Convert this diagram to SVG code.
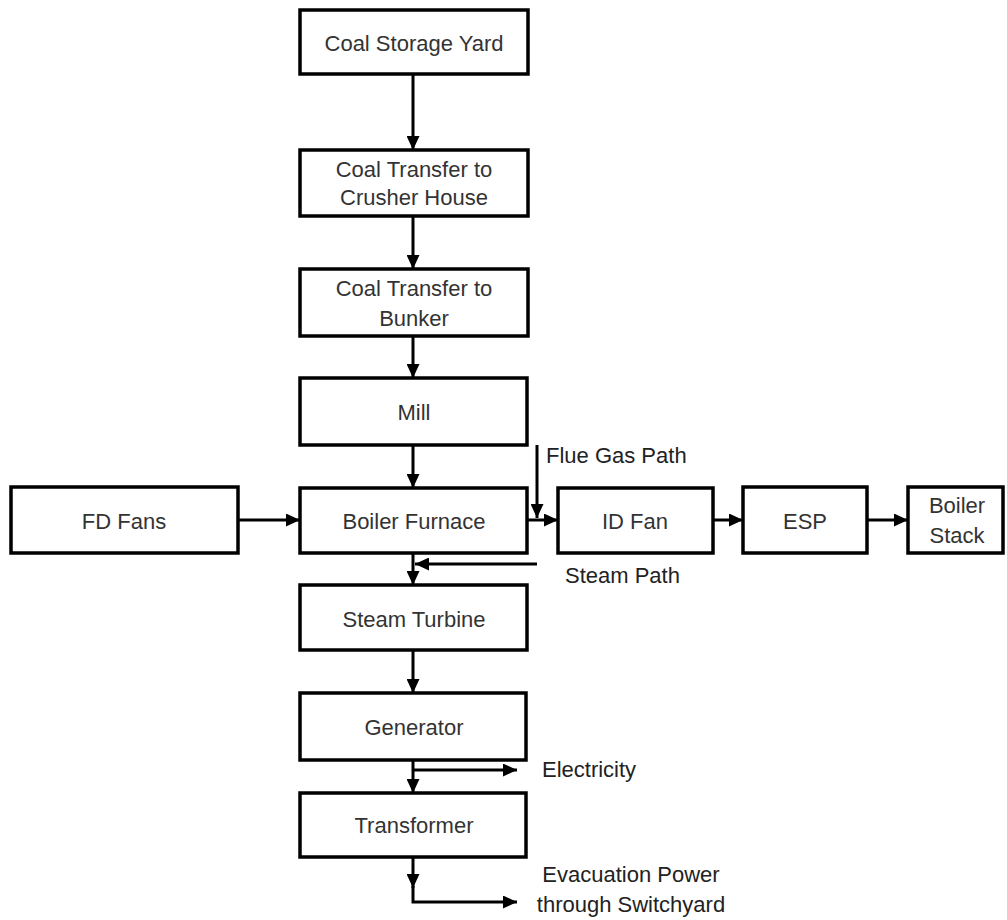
<svg xmlns="http://www.w3.org/2000/svg" width="1007" height="920" viewBox="0 0 1007 920">
<style>
.box{fill:#fff;stroke:#000;stroke-width:3.5}
.t{font-family:"Liberation Sans",Arial,sans-serif;font-size:22px;fill:#333;text-anchor:middle}
.l{font-family:"Liberation Sans",Arial,sans-serif;font-size:22px;fill:#222}
.c{fill:none;stroke:#000;stroke-width:3}
</style>
<defs>
<marker id="ah" markerUnits="userSpaceOnUse" markerWidth="15" markerHeight="13" refX="14" refY="6.5" orient="auto">
<path d="M0,0 L14,6.5 L0,13 z" fill="#000"/>
</marker>
</defs>
<rect width="1007" height="920" fill="#fff"/>
<g id="connectors">
<line class="c" x1="413" y1="74" x2="413" y2="150" marker-end="url(#ah)"/>
<line class="c" x1="413" y1="216" x2="413" y2="269" marker-end="url(#ah)"/>
<line class="c" x1="413" y1="336" x2="413" y2="378" marker-end="url(#ah)"/>
<line class="c" x1="413" y1="445" x2="413" y2="488" marker-end="url(#ah)"/>
<line class="c" x1="413" y1="553" x2="413" y2="585" marker-end="url(#ah)"/>
<line class="c" x1="537" y1="564" x2="415" y2="564" marker-end="url(#ah)"/>
<line class="c" x1="413" y1="650" x2="413" y2="693" marker-end="url(#ah)"/>
<line class="c" x1="413" y1="760" x2="413" y2="793" marker-end="url(#ah)"/>
<line class="c" x1="413" y1="770" x2="517" y2="770" marker-end="url(#ah)"/>
<line class="c" x1="413" y1="857" x2="413" y2="888" marker-end="url(#ah)"/>
<polyline class="c" points="413,886 413,902 517,902" marker-end="url(#ah)"/>
<line class="c" x1="238" y1="520" x2="300" y2="520" marker-end="url(#ah)"/>
<line class="c" x1="527" y1="520" x2="558" y2="520" marker-end="url(#ah)"/>
<line class="c" x1="537" y1="445" x2="537" y2="518" marker-end="url(#ah)"/>
<line class="c" x1="713" y1="520" x2="743" y2="520" marker-end="url(#ah)"/>
<line class="c" x1="867" y1="520" x2="908" y2="520" marker-end="url(#ah)"/>
</g>
<g id="coal-storage-yard"><rect class="box" x="300" y="10" width="228" height="64"/><text class="t" x="414" y="51">Coal Storage Yard</text></g>
<g id="coal-transfer-crusher"><rect class="box" x="300" y="150" width="228" height="66"/><text class="t" x="414" y="177">Coal Transfer to</text><text class="t" x="414" y="205">Crusher House</text></g>
<g id="coal-transfer-bunker"><rect class="box" x="300" y="269" width="228" height="67"/><text class="t" x="414" y="296">Coal Transfer to</text><text class="t" x="414" y="326">Bunker</text></g>
<g id="mill"><rect class="box" x="300" y="378" width="227" height="67"/><text class="t" x="414" y="420">Mill</text></g>
<g id="boiler-furnace"><rect class="box" x="300" y="488" width="227" height="65"/><text class="t" x="414" y="529">Boiler Furnace</text></g>
<g id="fd-fans"><rect class="box" x="11" y="487" width="227" height="66"/><text class="t" x="124" y="529">FD Fans</text></g>
<g id="id-fan"><rect class="box" x="558" y="488" width="155" height="65"/><text class="t" x="635" y="529">ID Fan</text></g>
<g id="esp"><rect class="box" x="743" y="487" width="124" height="66"/><text class="t" x="805" y="529">ESP</text></g>
<g id="boiler-stack"><rect class="box" x="908" y="487" width="95" height="66"/><text class="t" x="957" y="513">Boiler</text><text class="t" x="957" y="543">Stack</text></g>
<g id="steam-turbine"><rect class="box" x="300" y="585" width="227" height="65"/><text class="t" x="414" y="627">Steam Turbine</text></g>
<g id="generator"><rect class="box" x="300" y="693" width="226" height="67"/><text class="t" x="414" y="735">Generator</text></g>
<g id="transformer"><rect class="box" x="300" y="793" width="226" height="64"/><text class="t" x="414" y="833">Transformer</text></g>
<g id="labels">
<text class="l" x="546" y="463">Flue Gas Path</text>
<text class="l" x="565" y="583">Steam Path</text>
<text class="l" x="542" y="777">Electricity</text>
<text class="t" x="631" y="882" style="fill:#222">Evacuation Power</text>
<text class="t" x="631" y="912" style="fill:#222">through Switchyard</text>
</g>
</svg>
